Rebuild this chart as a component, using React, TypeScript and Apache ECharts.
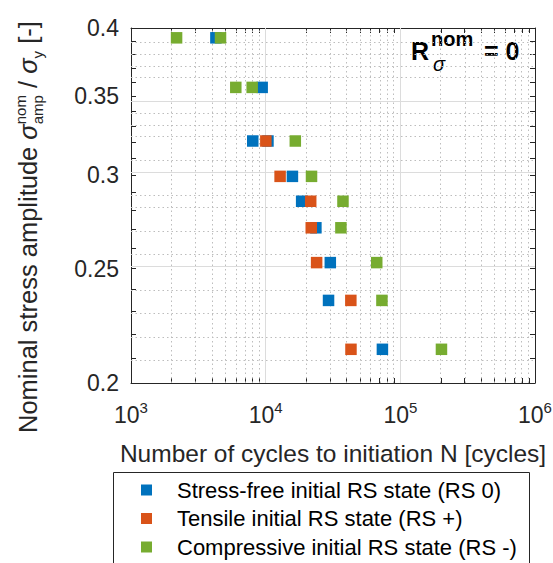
import React, { useEffect, useRef } from 'react';
import * as echarts from 'echarts';

const FONT = '"Liberation Sans", Arial, Helvetica, sans-serif';
const AXIS_COLOR = '#262626';

const SERIES_NAMES = [
  'Stress-free initial RS state (RS 0)',
  'Tensile initial RS state (RS +)',
  'Compressive initial RS state (RS -)',
];
const SERIES_COLORS = ['#0072BD', '#D95319', '#77AC30'];

// Cycles to crack initiation and normalised nominal stress amplitude, per RS state
const RS0_CYCLES = [4270, 9420, 8020, 10400, 15800, 18500, 23600, 30200, 29300, 73600];
const RS0_STRESS = [0.3924, 0.3562, 0.3208, 0.3208, 0.2994, 0.2852, 0.2708, 0.253, 0.235, 0.2136];
const RSP_CYCLES = [10030, 12800, 21600, 21800, 23900, 42900, 43000];
const RSP_STRESS = [0.3208, 0.2994, 0.2852, 0.2708, 0.253, 0.235, 0.2136];
const RSN_CYCLES = [2180, 4620, 6000, 7940, 16600, 21900, 37500, 36200, 66800, 73000, 202000];
const RSN_STRESS = [0.3924, 0.3924, 0.3562, 0.3562, 0.3208, 0.2994, 0.2852, 0.2708, 0.253, 0.235, 0.2136];

// Log axes
const X_RANGE = [1e3, 1e6];
const X_MAJOR = [1e3, 1e4, 1e5, 1e6];
const X_MINOR_FACTORS = [2, 3, 4, 5, 6, 7, 8, 9];
const Y_RANGE = [0.2, 0.4];
const Y_MAJOR = [0.2, 0.25, 0.3, 0.35, 0.4];
const Y_MINOR = [0.21, 0.22, 0.23, 0.24, 0.26, 0.27, 0.28, 0.29, 0.31, 0.32, 0.33, 0.34, 0.36, 0.37, 0.38, 0.39];

const lg = (v: number) => Math.log10(v);

export default function App() {
  const ref = useRef<HTMLDivElement>(null);

  useEffect(() => {
    if (!ref.current) return;
    const chart = echarts.init(ref.current, null, { renderer: 'svg' });

    const ctx = document.createElement('canvas').getContext('2d')!;
    const measure = (text: string, size: number, style = 'normal', weight = 'normal') => {
      ctx.font = `${style} ${weight} ${size}px ${FONT}`;
      return ctx.measureText(text).width;
    };

    const xMin = lg(X_RANGE[0]);
    const xMax = lg(X_RANGE[1]);
    const yMin = lg(Y_RANGE[0]);
    const yMax = lg(Y_RANGE[1]);

    const xMinor: number[] = [];
    X_MAJOR.slice(0, -1).forEach((d) => X_MINOR_FACTORS.forEach((f) => xMinor.push(d * f)));
    const xTicks = [...X_MAJOR, ...xMinor].map(lg);
    const yTicks = [...Y_MAJOR, ...Y_MINOR].map(lg);

    const inside = (v: number, a: number, b: number) => v > a + 1e-9 && v < b - 1e-9;
    const majorLines = [
      ...X_MAJOR.map(lg).filter((v) => inside(v, xMin, xMax)).map((v) => ({ xAxis: v })),
      ...Y_MAJOR.map(lg).filter((v) => inside(v, yMin, yMax)).map((v) => ({ yAxis: v })),
    ];
    const minorLines = [
      ...xMinor.map(lg).map((v) => ({ xAxis: v })),
      ...Y_MINOR.map(lg).map((v) => ({ yAxis: v })),
    ];

    const pairs = (xs: number[], ys: number[]) => xs.map((x, i) => [lg(x), lg(ys[i])]);
    const seriesData = [
      pairs(RS0_CYCLES, RS0_STRESS),
      pairs(RSP_CYCLES, RSP_STRESS),
      pairs(RSN_CYCLES, RSN_STRESS),
    ];

    // Rotated y-axis title with sub/superscripts
    const MAIN = 25.5;
    const SMALL = 15;
    const yTitle: any[] = [];
    let cur = 0;
    const put = (text: string, size: number, base: number, italic = false) => {
      yTitle.push({
        type: 'text',
        x: cur,
        y: base - 0.35 * size,
        style: {
          text,
          fontSize: size,
          fontFamily: FONT,
          fontStyle: italic ? 'italic' : 'normal',
          fill: AXIS_COLOR,
          align: 'left',
          verticalAlign: 'middle',
        },
      });
      return measure(text, size, italic ? 'italic' : 'normal');
    };
    cur += put('Nominal stress amplitude ', MAIN, 0);
    cur += put('σ', MAIN, 0, true);
    const wNom = put('nom', SMALL, -11);
    const wAmp = put('amp', SMALL, 6);
    cur += Math.max(wNom, wAmp);
    cur += put(' / ', MAIN, 0);
    cur += put('σ', MAIN, 0, true);
    cur += put('y', SMALL, 6);
    cur += put(' [-]', MAIN, 0);

    const titleText = (text: string, x: number, base: number, size: number, italic = false, bold = true) => ({
      type: 'text',
      x,
      y: base - 0.35 * size,
      style: {
        text,
        fontSize: size,
        fontFamily: FONT,
        fontWeight: bold ? 'bold' : 'normal',
        fontStyle: italic ? 'italic' : 'normal',
        fill: '#000',
        align: 'left',
        verticalAlign: 'middle',
      },
    });

    const tickAxisCommon = {
      type: 'value',
      axisLine: { show: true, lineStyle: { color: AXIS_COLOR, width: 1 } },
      splitLine: { show: false },
    };

    chart.setOption({
      animation: false,
      textStyle: { fontFamily: FONT },
      grid: { left: 131, top: 28, width: 404, height: 355, outerBoundsMode: 'none' },
      xAxis: [
        {
          ...tickAxisCommon,
          position: 'bottom',
          min: xMin,
          max: xMax,
          interval: 1,
          axisTick: { show: true, inside: true, length: 5, customValues: xTicks, lineStyle: { color: AXIS_COLOR } },
          axisLabel: {
            margin: 17,
            fontSize: 23,
            lineHeight: 30,
            color: AXIS_COLOR,
            formatter: (v: number) => `{b|10}{s|${Math.round(v)}}`,
            rich: {
              b: { fontSize: 23, lineHeight: 30, color: AXIS_COLOR, fontFamily: FONT },
              s: { fontSize: 15, lineHeight: 16, verticalAlign: 'top', color: AXIS_COLOR, fontFamily: FONT },
            },
          },
          name: 'Number of cycles to initiation N [cycles]',
          nameLocation: 'middle',
          nameGap: 58,
          nameTextStyle: { fontSize: 24.5, color: AXIS_COLOR, fontFamily: FONT },
        },
        {
          ...tickAxisCommon,
          position: 'top',
          min: xMin,
          max: xMax,
          interval: 1,
          axisTick: { show: true, inside: true, length: 5, customValues: xTicks, lineStyle: { color: AXIS_COLOR } },
          axisLabel: { show: false },
        },
      ],
      yAxis: [
        {
          ...tickAxisCommon,
          position: 'left',
          min: yMin,
          max: yMax,
          axisTick: { show: true, inside: true, length: 5, customValues: yTicks, lineStyle: { color: AXIS_COLOR } },
          axisLabel: {
            margin: 12,
            fontSize: 23,
            color: AXIS_COLOR,
            padding: [6, 0, 0, 0],
            customValues: Y_MAJOR.map(lg),
            formatter: (v: number) => String(Math.round(Math.pow(10, v) * 100) / 100),
          },
        },
        {
          ...tickAxisCommon,
          position: 'right',
          min: yMin,
          max: yMax,
          axisTick: { show: true, inside: true, length: 5, customValues: yTicks, lineStyle: { color: AXIS_COLOR } },
          axisLabel: { show: false },
        },
      ],
      legend: {
        data: SERIES_NAMES,
        orient: 'vertical',
        left: 141,
        top: 479,
        padding: 0,
        itemWidth: 11,
        itemHeight: 11,
        itemGap: 6.5,
        icon: 'rect',
        selectedMode: false,
        textStyle: { fontSize: 22, fontFamily: FONT, color: '#000', lineHeight: 22, padding: [0, 0, 0, 20] },
      },
      graphic: [
        {
          type: 'rect',
          silent: true,
          shape: { x: 113.5, y: 472.5, width: 416, height: 120 },
          style: { fill: 'none', stroke: AXIS_COLOR, lineWidth: 1 },
        },
        { type: 'group', x: 37, y: 433, rotation: Math.PI / 2, children: yTitle },
        {
          type: 'group',
          x: 0,
          y: 0,
          children: [
            titleText('R', 411, 60, 25),
            titleText('nom', 431, 46, 20),
            titleText('σ', 433, 71, 20, true, false),
            titleText('= 0', 484, 60, 25),
          ],
        },
      ],
      series: [
        {
          type: 'scatter',
          data: [],
          silent: true,
          markLine: {
            silent: true,
            z: 1,
            symbol: ['none', 'none'],
            label: { show: false },
            lineStyle: { color: '#dcdcdc', width: 1, type: 'solid' },
            data: majorLines,
          },
        },
        {
          type: 'scatter',
          data: [],
          silent: true,
          markLine: {
            silent: true,
            z: 1,
            symbol: ['none', 'none'],
            label: { show: false },
            lineStyle: { color: '#bdbdbd', width: 1, type: [1.5, 3] },
            data: minorLines,
          },
        },
        ...SERIES_NAMES.map((name, i) => ({
          name,
          type: 'scatter',
          z: 3,
          symbol: 'rect',
          symbolSize: 11.5,
          itemStyle: { color: SERIES_COLORS[i], opacity: 1 },
          data: seriesData[i],
        })),
      ],
    });

    return () => chart.dispose();
  }, []);

  return (
    <div
      ref={ref}
      style={{ position: 'fixed', left: 0, top: 0, width: 553, height: 563, background: '#fff' }}
    />
  );
}
